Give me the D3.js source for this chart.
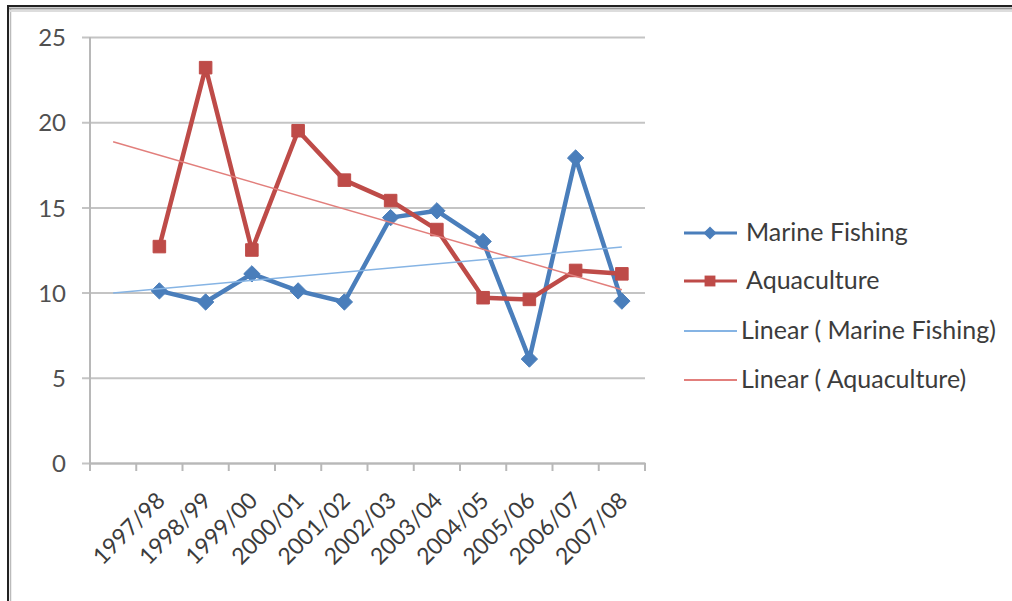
<!DOCTYPE html>
<html>
<head>
<meta charset="utf-8">
<script src="https://cdn.jsdelivr.net/npm/d3@7"></script>
<style>
  html, body { margin: 0; background: #fff; overflow: hidden; }
  svg { display: block; }
  text { font-family: Lato, "Open Sans", sans-serif; }
</style>
</head>
<body>
<div id="chart"></div>
<script>
// first category is blank in the source sheet
var categories = ["", "1997/98", "1998/99", "1999/00", "2000/01", "2001/02", "2002/03",
                  "2003/04", "2004/05", "2005/06", "2006/07", "2007/08"];
var marineFishing = [null, 10.1, 9.45, 11.1, 10.1, 9.45, 14.4, 14.8, 13.0, 6.1, 17.9, 9.5];
var aquaculture   = [null, 12.7, 23.2, 12.5, 19.5, 16.6, 15.4, 13.7, 9.7, 9.6, 11.3, 11.1];
var yTicks = [0, 5, 10, 15, 20, 25];
var seriesNames = ["Marine Fishing", "Aquaculture"];

var width = 1012, height = 601;
var plot = {left: 90, right: 645, top: 37, bottom: 463};

var svg = d3.select("#chart").append("svg")
    .attr("width", width)
    .attr("height", height);

// frame of the pasted chart: only top and left edges are in the picture
svg.append("line")
    .attr("x1", 7).attr("x2", width).attr("y1", 6).attr("y2", 6)
    .attr("stroke", "#222").attr("stroke-width", 2);
svg.append("line")
    .attr("x1", 8).attr("x2", 8).attr("y1", 6).attr("y2", height)
    .attr("stroke", "#222").attr("stroke-width", 2);
svg.append("line")
    .attr("x1", 10.5).attr("x2", 10.5).attr("y1", 8).attr("y2", height)
    .attr("stroke", "#bbb").attr("stroke-width", 1.5);
svg.append("line")
    .attr("x1", 9).attr("x2", width).attr("y1", 8.5).attr("y2", 8.5)
    .attr("stroke", "#999").attr("stroke-width", 2);
svg.append("line")
    .attr("x1", 9).attr("x2", width).attr("y1", 11).attr("y2", 11)
    .attr("stroke", "#ddd").attr("stroke-width", 2);

var x = d3.scaleBand()
    .domain(d3.range(categories.length))
    .range([plot.left, plot.right]);

var cx = function(i) { return x(i) + x.bandwidth() / 2; };

var y = d3.scaleLinear()
    .domain([0, 25])
    .range([plot.bottom, plot.top]);

// GRIDLINES + Y AXIS

var yAxis = d3.axisLeft(y)
    .tickValues(yTicks)
    .tickSize(-(plot.right - plot.left))
    .tickPadding(24);

var gy = svg.append("g")
    .attr("transform", "translate(" + plot.left + ",0)")
    .call(yAxis);
gy.select(".domain").remove();
gy.selectAll(".tick line")
    .attr("x1", -8)
    .attr("stroke", "#c4c4c4")
    .attr("stroke-width", 2);
gy.selectAll(".tick text")
    .attr("fill", "#505050")
    .attr("dy", "0.36em")
    .style("font-size", "24px");

// X AXIS

var xAxis = d3.axisBottom(x)
    .tickValues([])
    .tickSizeOuter(0);

var gx = svg.append("g")
    .attr("transform", "translate(0," + plot.bottom + ")")
    .call(xAxis);
gx.select(".domain").attr("stroke", "#b8b8b8").attr("stroke-width", 2);

// tick marks sit on band boundaries
gx.selectAll(".bound")
    .data(d3.range(categories.length + 1))
    .enter().append("line")
    .attr("x1", function(i) { return plot.left + i * x.bandwidth(); })
    .attr("x2", function(i) { return plot.left + i * x.bandwidth(); })
    .attr("y1", 0).attr("y2", 8)
    .attr("stroke", "#b8b8b8").attr("stroke-width", 2);

svg.append("line")
    .attr("x1", plot.left).attr("x2", plot.left)
    .attr("y1", plot.top).attr("y2", plot.bottom + 8)
    .attr("stroke", "#b8b8b8").attr("stroke-width", 2);

svg.append("g").selectAll("text")
    .data(categories.map(function(c, i) { return {c: c, i: i}; }).filter(function(d) { return d.c !== ""; }))
    .enter().append("text")
    .attr("transform", function(d) { return "translate(" + (cx(d.i) + 7) + "," + (plot.bottom + 39) + ") rotate(-45)"; })
    .attr("text-anchor", "end")
    .attr("fill", "#3c3c3c")
    .style("font-size", "23px")
    .text(function(d) { return d.c; });

// TRENDLINES (least squares on category index, drawn across all categories)

function trend(values) {
    var pts = values.map(function(v, i) { return [i, v]; }).filter(function(p) { return p[1] != null; });
    var mx = d3.mean(pts, function(p) { return p[0]; });
    var my = d3.mean(pts, function(p) { return p[1]; });
    var sxy = d3.sum(pts, function(p) { return (p[0] - mx) * (p[1] - my); });
    var sxx = d3.sum(pts, function(p) { return (p[0] - mx) * (p[0] - mx); });
    var b = sxy / sxx, a = my - b * mx;
    return [0, values.length - 1].map(function(i) { return [i, a + b * i]; });
}

var line = d3.line()
    .defined(function(d) { return d[1] != null; })
    .x(function(d) { return cx(d[0]); })
    .y(function(d) { return y(d[1]); });

var blue = "#4a7ebb", red = "#be4b48";
var blueTrend = "#86b4e4", redTrend = "#e27f7c";

// SERIES LINES

var series = [
    {name: seriesNames[0], values: marineFishing, color: blue, trend: blueTrend, marker: "diamond"},
    {name: seriesNames[1], values: aquaculture, color: red, trend: redTrend, marker: "square"}
];

function markerPath(type, size) {
    return d3.symbol().type(type === "diamond" ? d3.symbolDiamond2 : d3.symbolSquare2).size(size)();
}

series.forEach(function(s) {
    svg.append("path")
        .attr("d", line(s.values.map(function(v, i) { return [i, v]; })))
        .attr("fill", "none")
        .attr("stroke", s.color)
        .attr("stroke-width", 4.5)
        .attr("stroke-linejoin", "round");
});

series.forEach(function(s) {
    svg.append("g").selectAll("path")
        .data(s.values.map(function(v, i) { return [i, v]; }).filter(function(d) { return d[1] != null; }))
        .enter().append("path")
        .attr("transform", function(d) { return "translate(" + cx(d[0]) + "," + y(d[1]) + ")"; })
        .attr("d", markerPath(s.marker, s.marker === "diamond" ? 170 : 200))
        .attr("fill", s.color)
        .attr("stroke", s.color)
        .attr("stroke-width", 1);
});

series.forEach(function(s) {
    svg.append("path")
        .attr("d", line(trend(s.values)))
        .attr("fill", "none")
        .attr("stroke", s.trend)
        .attr("stroke-width", 1.5);
});

// LEGEND

var legendItems = [
    {label: seriesNames[0], color: blue, marker: "diamond", w: 3},
    {label: seriesNames[1], color: red, marker: "square", w: 3},
    {label: "Linear ( " + seriesNames[0] + ")", color: blueTrend, marker: null, w: 2},
    {label: "Linear ( " + seriesNames[1] + ")", color: redTrend, marker: null, w: 2}
];
var legendY = [233, 281, 331, 380];

var lg = svg.append("g").selectAll("g")
    .data(legendItems)
    .enter().append("g")
    .attr("transform", function(d, i) { return "translate(0," + legendY[i] + ")"; });

lg.append("line")
    .attr("x1", 684).attr("x2", 737)
    .attr("stroke", function(d) { return d.color; })
    .attr("stroke-width", function(d) { return d.w; });

lg.filter(function(d) { return d.marker; }).append("path")
    .attr("transform", "translate(710,0)")
    .attr("d", function(d) { return markerPath(d.marker, d.marker === "diamond" ? 110 : 150); })
    .attr("fill", function(d) { return d.color; });

lg.append("text")
    .attr("x", function(d) { return d.marker ? 746 : 741; })
    .attr("y", 8)
    .attr("fill", "#3c3c3c")
    .style("font-size", "25px")
    .text(function(d) { return d.label; });
</script>
</body>
</html>
